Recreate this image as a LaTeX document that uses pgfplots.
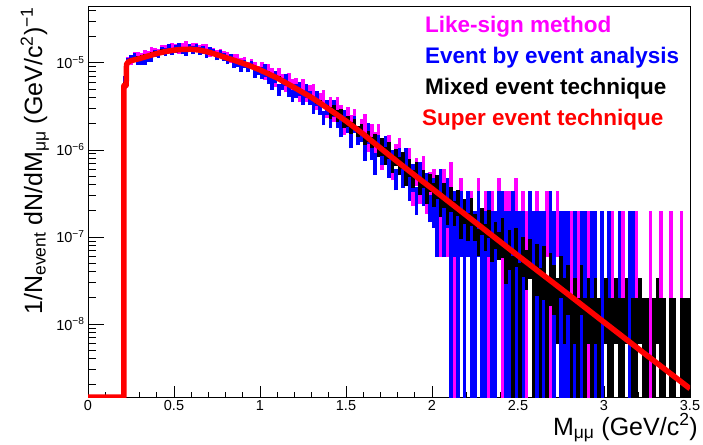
\documentclass[border=0pt]{standalone}
\usepackage{fontspec}
\setmainfont{Liberation Sans}
\usepackage{pgfplots}
\pgfplotsset{compat=1.18}
\definecolor{rmag}{rgb}{1,0,1}
\definecolor{rblue}{rgb}{0,0,1}
\definecolor{rred}{rgb}{1,0,0}
\begin{document}
\begin{tikzpicture}
\begin{axis}[
  scale only axis, width=602pt, height=391pt,
  xmin=0, xmax=3.5, ymode=log, ymin=1.45e-9, ymax=4.5e-5,
  axis line style={line width=0.8pt},
  tick align=inside, xtick pos=bottom, ytick pos=left,
  xtick={0,0.5,1,1.5,2,2.5,3,3.5},
  xticklabels={0,0.5,1,1.5,2,2.5,3,3.5},
  minor x tick num=4,
  ytick={1e-8,1e-7,1e-6,1e-5},
  yticklabels={10\textsuperscript{−8},10\textsuperscript{−7},10\textsuperscript{−6},10\textsuperscript{−5}},
  minor ytick={2e-9,3e-9,4e-9,5e-9,6e-9,7e-9,8e-9,9e-9,2e-8,3e-8,4e-8,5e-8,6e-8,7e-8,8e-8,9e-8,2e-7,3e-7,4e-7,5e-7,6e-7,7e-7,8e-7,9e-7,2e-6,3e-6,4e-6,5e-6,6e-6,7e-6,8e-6,9e-6,2e-5,3e-5,4e-5},
  xtick style={line width=0.8pt,black,/pgfplots/major tick length=11pt,/pgfplots/minor tick length=5.5pt},
  ytick style={line width=0.8pt,black,/pgfplots/major tick length=16pt,/pgfplots/minor tick length=8pt},
  ticklabel style={font=\fontsize{14.5}{17}\selectfont},
  unbounded coords=jump,
]
% Like-sign method (magenta)
\addplot[rmag, line width=3.6pt] coordinates {
(0.215,5.0e-6)(0.215,6.4e-6)(0.215,nan)
(0.23,9.6e-6)(0.23,11.8e-6)(0.23,nan)
(0.25,9.54e-6)(0.25,11.66e-6)(0.25,nan)
(0.27,10.93e-6)(0.27,13.37e-6)(0.27,nan)
(0.29,10.79e-6)(0.29,13.19e-6)(0.29,nan)
(0.31,10.72e-6)(0.31,13.11e-6)(0.31,nan)
(0.33,11.58e-6)(0.33,14.16e-6)(0.33,nan)
(0.35,11.23e-6)(0.35,13.73e-6)(0.35,nan)
(0.37,12.4e-6)(0.37,15.16e-6)(0.37,nan)
(0.39,12.06e-6)(0.39,14.76e-6)(0.39,nan)
(0.41,11.65e-6)(0.41,14.25e-6)(0.41,nan)
(0.43,13.06e-6)(0.43,15.98e-6)(0.43,nan)
(0.45,12.99e-6)(0.45,15.9e-6)(0.45,nan)
(0.47,12.7e-6)(0.47,15.53e-6)(0.47,nan)
(0.49,13.76e-6)(0.49,16.82e-6)(0.49,nan)
(0.51,13.45e-6)(0.51,16.44e-6)(0.51,nan)
(0.53,12.77e-6)(0.53,15.63e-6)(0.53,nan)
(0.55,13.89e-6)(0.55,17.0e-6)(0.55,nan)
(0.57,14.46e-6)(0.57,17.69e-6)(0.57,nan)
(0.59,13.16e-6)(0.59,16.11e-6)(0.59,nan)
(0.61,13.77e-6)(0.61,16.84e-6)(0.61,nan)
(0.63,14.01e-6)(0.63,17.12e-6)(0.63,nan)
(0.65,13.1e-6)(0.65,16.02e-6)(0.65,nan)
(0.67,13.49e-6)(0.67,16.5e-6)(0.67,nan)
(0.69,13.55e-6)(0.69,16.58e-6)(0.69,nan)
(0.71,11.83e-6)(0.71,14.47e-6)(0.71,nan)
(0.73,12.21e-6)(0.73,14.93e-6)(0.73,nan)
(0.75,11.38e-6)(0.75,13.92e-6)(0.75,nan)
(0.77,11.92e-6)(0.77,14.59e-6)(0.77,nan)
(0.79,11.05e-6)(0.79,13.52e-6)(0.79,nan)
(0.81,11.03e-6)(0.81,13.49e-6)(0.81,nan)
(0.83,9.9e-6)(0.83,12.1e-6)(0.83,nan)
(0.85,10.2e-6)(0.85,12.48e-6)(0.85,nan)
(0.87,10.29e-6)(0.87,12.59e-6)(0.87,nan)
(0.89,9.22e-6)(0.89,11.28e-6)(0.89,nan)
(0.91,9.47e-6)(0.91,11.59e-6)(0.91,nan)
(0.93,8.46e-6)(0.93,10.34e-6)(0.93,nan)
(0.95,9.17e-6)(0.95,11.21e-6)(0.95,nan)
(0.97,8.31e-6)(0.97,10.17e-6)(0.97,nan)
(0.99,7.6e-6)(0.99,9.3e-6)(0.99,nan)
(1.01,7.45e-6)(1.01,10.26e-6)(1.01,nan)
(1.03,6.31e-6)(1.03,8.7e-6)(1.03,nan)
(1.05,7.11e-6)(1.05,9.8e-6)(1.05,nan)
(1.07,6.4e-6)(1.07,8.81e-6)(1.07,nan)
(1.09,5.22e-6)(1.09,7.19e-6)(1.09,nan)
(1.11,6.38e-6)(1.11,8.78e-6)(1.11,nan)
(1.13,5.4e-6)(1.13,7.44e-6)(1.13,nan)
(1.15,4.59e-6)(1.15,6.33e-6)(1.15,nan)
(1.17,5.59e-6)(1.17,7.71e-6)(1.17,nan)
(1.19,4.76e-6)(1.19,6.56e-6)(1.19,nan)
(1.21,4.54e-6)(1.21,6.66e-6)(1.21,nan)
(1.23,3.53e-6)(1.23,5.18e-6)(1.23,nan)
(1.25,4.47e-6)(1.25,6.54e-6)(1.25,nan)
(1.27,3.56e-6)(1.27,5.22e-6)(1.27,nan)
(1.29,3.76e-6)(1.29,5.51e-6)(1.29,nan)
(1.31,3.9e-6)(1.31,5.7e-6)(1.31,nan)
(1.33,2.84e-6)(1.33,4.16e-6)(1.33,nan)
(1.35,3.11e-6)(1.35,4.55e-6)(1.35,nan)
(1.37,3.32e-6)(1.37,4.87e-6)(1.37,nan)
(1.39,2.3e-6)(1.39,3.37e-6)(1.39,nan)
(1.41,2.59e-6)(1.41,4.1e-6)(1.41,nan)
(1.43,2.12e-6)(1.43,3.36e-6)(1.43,nan)
(1.45,2.58e-6)(1.45,4.08e-6)(1.45,nan)
(1.47,2.04e-6)(1.47,3.24e-6)(1.47,nan)
(1.49,1.47e-6)(1.49,2.34e-6)(1.49,nan)
(1.51,1.95e-6)(1.51,3.1e-6)(1.51,nan)
(1.53,1.6e-6)(1.53,2.54e-6)(1.53,nan)
(1.55,1.85e-6)(1.55,2.94e-6)(1.55,nan)
(1.57,1.2e-6)(1.57,1.9e-6)(1.57,nan)
(1.59,1.42e-6)(1.59,2.26e-6)(1.59,nan)
(1.61,1.46e-6)(1.61,2.57e-6)(1.61,nan)
(1.63,0.957e-6)(1.63,1.68e-6)(1.63,nan)
(1.65,1.12e-6)(1.65,1.98e-6)(1.65,nan)
(1.67,0.911e-6)(1.67,1.61e-6)(1.67,nan)
(1.69,1.12e-6)(1.69,1.98e-6)(1.69,nan)
(1.71,0.594e-6)(1.71,1.05e-6)(1.71,nan)
(1.73,0.796e-6)(1.73,1.4e-6)(1.73,nan)
(1.75,0.833e-6)(1.75,1.47e-6)(1.75,nan)
(1.77,0.447e-6)(1.77,0.787e-6)(1.77,nan)
(1.79,0.662e-6)(1.79,1.17e-6)(1.79,nan)
(1.81,0.65e-6)(1.81,1.354e-6)(1.81,nan)
(1.83,0.387e-6)(1.83,0.809e-6)(1.83,nan)
(1.85,0.441e-6)(1.85,0.92e-6)(1.85,nan)
(1.87,0.5e-6)(1.87,1.045e-6)(1.87,nan)
(1.89,0.226e-6)(1.89,0.472e-6)(1.89,nan)
(1.91,0.389e-6)(1.91,0.813e-6)(1.91,nan)
(1.93,0.241e-6)(1.93,0.503e-6)(1.93,nan)
(1.95,0.408e-6)(1.95,0.852e-6)(1.95,nan)
(1.97,0.183e-6)(1.97,0.382e-6)(1.97,nan)
(1.99,0.27e-6)(1.99,0.563e-6)(1.99,nan)
(2.01,2.0e-7)(2.01,6.0e-7)(2.01,nan)
(2.03,1.27e-7)(2.03,4.73e-7)(2.03,nan)
(2.05,0.586e-7)(2.05,3.41e-7)(2.05,nan)
(2.07,2.0e-7)(2.07,6.0e-7)(2.07,nan)
(2.09,0.586e-7)(2.09,3.41e-7)(2.09,nan)
(2.11,2.76e-7)(2.11,7.24e-7)(2.11,nan)
(2.13,1e-9)(2.13,2.0e-7)(2.13,nan)
(2.15,0.586e-7)(2.15,3.41e-7)(2.15,nan)
(2.17,1.27e-7)(2.17,4.73e-7)(2.17,nan)
(2.19,1e-9)(2.19,2.0e-7)(2.19,nan)
(2.21,0.586e-7)(2.21,3.41e-7)(2.21,nan)
(2.23,0.586e-7)(2.23,3.41e-7)(2.23,nan)
(2.25,1e-9)(2.25,2.0e-7)(2.25,nan)
(2.27,1.27e-7)(2.27,4.73e-7)(2.27,nan)
(2.29,1e-9)(2.29,2.0e-7)(2.29,nan)
(2.31,0.586e-7)(2.31,3.41e-7)(2.31,nan)
(2.33,1e-9)(2.33,2.0e-7)(2.33,nan)
(2.35,0.586e-7)(2.35,3.41e-7)(2.35,nan)
(2.37,1e-9)(2.37,2.0e-7)(2.37,nan)
(2.39,1.27e-7)(2.39,4.73e-7)(2.39,nan)
(2.41,1e-9)(2.41,2.0e-7)(2.41,nan)
(2.43,0.586e-7)(2.43,3.41e-7)(2.43,nan)
(2.45,0.586e-7)(2.45,3.41e-7)(2.45,nan)
(2.47,1e-9)(2.47,2.0e-7)(2.47,nan)
(2.49,1.27e-7)(2.49,4.73e-7)(2.49,nan)
(2.51,1e-9)(2.51,2.0e-7)(2.51,nan)
(2.53,0.586e-7)(2.53,3.41e-7)(2.53,nan)
(2.55,1e-9)(2.55,2.0e-7)(2.55,nan)
(2.57,0.586e-7)(2.57,3.41e-7)(2.57,nan)
(2.59,1e-9)(2.59,2.0e-7)(2.59,nan)
(2.61,0.586e-7)(2.61,3.41e-7)(2.61,nan)
(2.63,1e-9)(2.63,2.0e-7)(2.63,nan)
(2.65,1e-9)(2.65,2.0e-7)(2.65,nan)
(2.67,0.586e-7)(2.67,3.41e-7)(2.67,nan)
(2.69,1e-9)(2.69,2.0e-7)(2.69,nan)
(2.71,1e-9)(2.71,2.0e-7)(2.71,nan)
(2.73,0.586e-7)(2.73,3.41e-7)(2.73,nan)
(2.75,1e-9)(2.75,2.0e-7)(2.75,nan)
(2.79,1e-9)(2.79,2.0e-7)(2.79,nan)
(2.81,1e-9)(2.81,2.0e-7)(2.81,nan)
(2.85,1e-9)(2.85,2.0e-7)(2.85,nan)
(2.87,1e-9)(2.87,2.0e-7)(2.87,nan)
(2.91,1e-9)(2.91,2.0e-7)(2.91,nan)
(2.95,1e-9)(2.95,2.0e-7)(2.95,nan)
(2.99,1e-9)(2.99,2.0e-7)(2.99,nan)
(3.05,1e-9)(3.05,2.0e-7)(3.05,nan)
(3.11,1e-9)(3.11,2.0e-7)(3.11,nan)
(3.19,1e-9)(3.19,2.0e-7)(3.19,nan)
(3.27,1e-9)(3.27,2.0e-7)(3.27,nan)
(3.33,1e-9)(3.33,2.0e-7)(3.33,nan)
(3.39,1e-9)(3.39,2.0e-7)(3.39,nan)
(3.45,1e-9)(3.45,2.0e-7)(3.45,nan)
};
% Event by event analysis (blue)
\addplot[rblue, line width=3.6pt] coordinates {
(0.215,5.6e-6)(0.215,7.0e-6)(0.215,nan)
(0.23,9.3e-6)(0.23,11.3e-6)(0.23,nan)
(0.25,10.04e-6)(0.25,12.26e-6)(0.25,nan)
(0.27,10.51e-6)(0.27,12.89e-6)(0.27,nan)
(0.29,9.47e-6)(0.29,11.63e-6)(0.29,nan)
(0.31,9.39e-6)(0.31,11.53e-6)(0.31,nan)
(0.33,9.47e-6)(0.33,11.58e-6)(0.33,nan)
(0.35,10.36e-6)(0.35,12.68e-6)(0.35,nan)
(0.37,10.18e-6)(0.37,12.47e-6)(0.37,nan)
(0.39,11.61e-6)(0.39,14.2e-6)(0.39,nan)
(0.41,11.3e-6)(0.41,13.82e-6)(0.41,nan)
(0.43,12.47e-6)(0.43,15.25e-6)(0.43,nan)
(0.45,12.15e-6)(0.45,14.86e-6)(0.45,nan)
(0.47,13.31e-6)(0.47,16.29e-6)(0.47,nan)
(0.49,12.25e-6)(0.49,14.99e-6)(0.49,nan)
(0.51,13.07e-6)(0.51,15.98e-6)(0.51,nan)
(0.53,13.92e-6)(0.53,17.03e-6)(0.53,nan)
(0.55,12.48e-6)(0.55,15.26e-6)(0.55,nan)
(0.57,12.01e-6)(0.57,14.68e-6)(0.57,nan)
(0.59,13.43e-6)(0.59,16.42e-6)(0.59,nan)
(0.61,12.6e-6)(0.61,15.42e-6)(0.61,nan)
(0.63,13.49e-6)(0.63,16.51e-6)(0.63,nan)
(0.65,12.47e-6)(0.65,15.25e-6)(0.65,nan)
(0.67,12.61e-6)(0.67,15.44e-6)(0.67,nan)
(0.69,11.5e-6)(0.69,14.06e-6)(0.69,nan)
(0.71,12.54e-6)(0.71,15.34e-6)(0.71,nan)
(0.73,11.86e-6)(0.73,14.5e-6)(0.73,nan)
(0.75,10.71e-6)(0.75,13.1e-6)(0.75,nan)
(0.77,11.38e-6)(0.77,13.92e-6)(0.77,nan)
(0.79,10.53e-6)(0.79,12.88e-6)(0.79,nan)
(0.81,9.6e-6)(0.81,11.74e-6)(0.81,nan)
(0.83,10.29e-6)(0.83,12.59e-6)(0.83,nan)
(0.85,8.67e-6)(0.85,10.6e-6)(0.85,nan)
(0.87,9.07e-6)(0.87,11.1e-6)(0.87,nan)
(0.89,7.95e-6)(0.89,9.73e-6)(0.89,nan)
(0.91,8.77e-6)(0.91,10.73e-6)(0.91,nan)
(0.93,7.78e-6)(0.93,9.52e-6)(0.93,nan)
(0.95,8.6e-6)(0.95,10.51e-6)(0.95,nan)
(0.97,6.73e-6)(0.97,8.23e-6)(0.97,nan)
(0.99,7.3e-6)(0.99,8.93e-6)(0.99,nan)
(1.01,6.55e-6)(1.01,9.03e-6)(1.01,nan)
(1.03,6.97e-6)(1.03,9.61e-6)(1.03,nan)
(1.05,5.71e-6)(1.05,7.87e-6)(1.05,nan)
(1.07,4.88e-6)(1.07,6.72e-6)(1.07,nan)
(1.09,5.8e-6)(1.09,7.99e-6)(1.09,nan)
(1.11,4.16e-6)(1.11,5.72e-6)(1.11,nan)
(1.13,4.87e-6)(1.13,6.71e-6)(1.13,nan)
(1.15,5.39e-6)(1.15,7.43e-6)(1.15,nan)
(1.17,4.03e-6)(1.17,5.55e-6)(1.17,nan)
(1.19,3.53e-6)(1.19,4.86e-6)(1.19,nan)
(1.21,3.93e-6)(1.21,5.76e-6)(1.21,nan)
(1.23,4.13e-6)(1.23,6.04e-6)(1.23,nan)
(1.25,3.28e-6)(1.25,4.8e-6)(1.25,nan)
(1.27,3.92e-6)(1.27,5.73e-6)(1.27,nan)
(1.29,3.26e-6)(1.29,4.77e-6)(1.29,nan)
(1.31,2.62e-6)(1.31,3.83e-6)(1.31,nan)
(1.33,3.23e-6)(1.33,4.72e-6)(1.33,nan)
(1.35,2.54e-6)(1.35,3.73e-6)(1.35,nan)
(1.37,1.91e-6)(1.37,2.81e-6)(1.37,nan)
(1.39,2.55e-6)(1.39,3.73e-6)(1.39,nan)
(1.41,1.79e-6)(1.41,2.85e-6)(1.41,nan)
(1.43,2.36e-6)(1.43,3.76e-6)(1.43,nan)
(1.45,1.78e-6)(1.45,2.83e-6)(1.45,nan)
(1.47,1.39e-6)(1.47,2.2e-6)(1.47,nan)
(1.49,1.82e-6)(1.49,2.89e-6)(1.49,nan)
(1.51,1.55e-6)(1.51,2.45e-6)(1.51,nan)
(1.53,1.04e-6)(1.53,1.64e-6)(1.53,nan)
(1.55,1.56e-6)(1.55,2.48e-6)(1.55,nan)
(1.57,1.13e-6)(1.57,1.79e-6)(1.57,nan)
(1.59,1.23e-6)(1.59,1.97e-6)(1.59,nan)
(1.61,0.754e-6)(1.61,1.33e-6)(1.61,nan)
(1.63,1.16e-6)(1.63,2.04e-6)(1.63,nan)
(1.65,0.764e-6)(1.65,1.35e-6)(1.65,nan)
(1.67,0.52e-6)(1.67,0.918e-6)(1.67,nan)
(1.69,0.843e-6)(1.69,1.48e-6)(1.69,nan)
(1.71,0.669e-6)(1.71,1.18e-6)(1.71,nan)
(1.73,0.828e-6)(1.73,1.46e-6)(1.73,nan)
(1.75,0.48e-6)(1.75,0.846e-6)(1.75,nan)
(1.77,0.567e-6)(1.77,0.997e-6)(1.77,nan)
(1.79,0.342e-6)(1.79,0.603e-6)(1.79,nan)
(1.81,0.51e-6)(1.81,1.065e-6)(1.81,nan)
(1.83,0.366e-6)(1.83,0.764e-6)(1.83,nan)
(1.85,0.5e-6)(1.85,1.045e-6)(1.85,nan)
(1.87,0.259e-6)(1.87,0.542e-6)(1.87,nan)
(1.89,0.33e-6)(1.89,0.69e-6)(1.89,nan)
(1.91,0.178e-6)(1.91,0.373e-6)(1.91,nan)
(1.93,0.347e-6)(1.93,0.724e-6)(1.93,nan)
(1.95,0.225e-6)(1.95,0.47e-6)(1.95,nan)
(1.97,0.261e-6)(1.97,0.546e-6)(1.97,nan)
(1.99,0.147e-6)(1.99,0.307e-6)(1.99,nan)
(2.01,1.27e-7)(2.01,4.73e-7)(2.01,nan)
(2.03,0.586e-7)(2.03,3.41e-7)(2.03,nan)
(2.05,2.0e-7)(2.05,6.0e-7)(2.05,nan)
(2.07,0.586e-7)(2.07,3.41e-7)(2.07,nan)
(2.09,1.27e-7)(2.09,4.73e-7)(2.09,nan)
(2.11,1e-9)(2.11,2.0e-7)(2.11,nan)
(2.13,0.586e-7)(2.13,3.41e-7)(2.13,nan)
(2.15,1e-9)(2.15,2.0e-7)(2.15,nan)
(2.17,0.586e-7)(2.17,3.41e-7)(2.17,nan)
(2.19,1e-9)(2.19,2.0e-7)(2.19,nan)
(2.21,0.586e-7)(2.21,3.41e-7)(2.21,nan)
(2.23,1e-9)(2.23,2.0e-7)(2.23,nan)
(2.25,1e-9)(2.25,2.0e-7)(2.25,nan)
(2.27,0.586e-7)(2.27,3.41e-7)(2.27,nan)
(2.29,1e-9)(2.29,2.0e-7)(2.29,nan)
(2.31,1e-9)(2.31,2.0e-7)(2.31,nan)
(2.33,0.586e-7)(2.33,3.41e-7)(2.33,nan)
(2.35,1e-9)(2.35,2.0e-7)(2.35,nan)
(2.37,1e-9)(2.37,2.0e-7)(2.37,nan)
(2.39,0.586e-7)(2.39,3.41e-7)(2.39,nan)
(2.41,0.586e-7)(2.41,3.41e-7)(2.41,nan)
(2.43,1e-9)(2.43,2.0e-7)(2.43,nan)
(2.45,1e-9)(2.45,2.0e-7)(2.45,nan)
(2.47,0.586e-7)(2.47,3.41e-7)(2.47,nan)
(2.49,1e-9)(2.49,2.0e-7)(2.49,nan)
(2.51,1e-9)(2.51,2.0e-7)(2.51,nan)
(2.53,1e-9)(2.53,2.0e-7)(2.53,nan)
(2.57,0.586e-7)(2.57,3.41e-7)(2.57,nan)
(2.59,1e-9)(2.59,2.0e-7)(2.59,nan)
(2.61,1e-9)(2.61,2.0e-7)(2.61,nan)
(2.63,1e-9)(2.63,2.0e-7)(2.63,nan)
(2.65,1e-9)(2.65,2.0e-7)(2.65,nan)
(2.69,0.586e-7)(2.69,3.41e-7)(2.69,nan)
(2.71,1e-9)(2.71,2.0e-7)(2.71,nan)
(2.75,1e-9)(2.75,2.0e-7)(2.75,nan)
(2.77,1e-9)(2.77,2.0e-7)(2.77,nan)
(2.79,1e-9)(2.79,2.0e-7)(2.79,nan)
(2.83,1e-9)(2.83,2.0e-7)(2.83,nan)
(2.87,1e-9)(2.87,2.0e-7)(2.87,nan)
(2.89,1e-9)(2.89,2.0e-7)(2.89,nan)
(2.93,1e-9)(2.93,2.0e-7)(2.93,nan)
(2.95,1e-9)(2.95,2.0e-7)(2.95,nan)
(2.99,1e-9)(2.99,2.0e-7)(2.99,nan)
(3.03,1e-9)(3.03,2.0e-7)(3.03,nan)
(3.09,1e-9)(3.09,2.0e-7)(3.09,nan)
(3.15,1e-9)(3.15,2.0e-7)(3.15,nan)
(3.17,1e-9)(3.17,2.0e-7)(3.17,nan)
};
% Mixed event technique (black)
\addplot[black, line width=3.6pt] coordinates {
(0.215,5.5e-6)(0.215,6.0e-6)(0.215,nan)
(0.23,10.0e-6)(0.23,10.5e-6)(0.23,nan)
(0.25,11.01e-6)(0.25,11.46e-6)(0.25,nan)
(0.27,11.16e-6)(0.27,11.62e-6)(0.27,nan)
(0.29,11.64e-6)(0.29,12.12e-6)(0.29,nan)
(0.31,11.68e-6)(0.31,12.16e-6)(0.31,nan)
(0.33,12.15e-6)(0.33,12.65e-6)(0.33,nan)
(0.35,12.23e-6)(0.35,12.73e-6)(0.35,nan)
(0.37,12.78e-6)(0.37,13.30e-6)(0.37,nan)
(0.39,13.01e-6)(0.39,13.55e-6)(0.39,nan)
(0.41,13.20e-6)(0.41,13.74e-6)(0.41,nan)
(0.43,13.71e-6)(0.43,14.27e-6)(0.43,nan)
(0.45,13.89e-6)(0.45,14.46e-6)(0.45,nan)
(0.47,13.96e-6)(0.47,14.53e-6)(0.47,nan)
(0.49,14.30e-6)(0.49,14.89e-6)(0.49,nan)
(0.51,14.23e-6)(0.51,14.81e-6)(0.51,nan)
(0.53,14.47e-6)(0.53,15.06e-6)(0.53,nan)
(0.55,14.43e-6)(0.55,15.02e-6)(0.55,nan)
(0.57,14.35e-6)(0.57,14.93e-6)(0.57,nan)
(0.59,14.48e-6)(0.59,15.08e-6)(0.59,nan)
(0.61,14.29e-6)(0.61,14.88e-6)(0.61,nan)
(0.63,13.87e-6)(0.63,14.43e-6)(0.63,nan)
(0.65,14.13e-6)(0.65,14.71e-6)(0.65,nan)
(0.67,13.61e-6)(0.67,14.17e-6)(0.67,nan)
(0.69,13.45e-6)(0.69,13.99e-6)(0.69,nan)
(0.71,12.89e-6)(0.71,13.41e-6)(0.71,nan)
(0.73,12.92e-6)(0.73,13.45e-6)(0.73,nan)
(0.75,12.27e-6)(0.75,12.77e-6)(0.75,nan)
(0.77,11.69e-6)(0.77,12.17e-6)(0.77,nan)
(0.79,11.69e-6)(0.79,12.17e-6)(0.79,nan)
(0.81,11.12e-6)(0.81,11.58e-6)(0.81,nan)
(0.83,11.10e-6)(0.83,11.56e-6)(0.83,nan)
(0.85,10.38e-6)(0.85,10.80e-6)(0.85,nan)
(0.87,10.29e-6)(0.87,10.71e-6)(0.87,nan)
(0.89,10.05e-6)(0.89,10.46e-6)(0.89,nan)
(0.91,9.36e-6)(0.91,9.75e-6)(0.91,nan)
(0.93,9.30e-6)(0.93,9.68e-6)(0.93,nan)
(0.95,8.92e-6)(0.95,9.28e-6)(0.95,nan)
(0.97,8.88e-6)(0.97,9.24e-6)(0.97,nan)
(0.99,8.20e-6)(0.99,8.53e-6)(0.99,nan)
(1.01,8.06e-6)(1.01,8.56e-6)(1.01,nan)
(1.03,7.46e-6)(1.03,7.92e-6)(1.03,nan)
(1.05,7.49e-6)(1.05,7.96e-6)(1.05,nan)
(1.07,6.98e-6)(1.07,7.42e-6)(1.07,nan)
(1.09,6.44e-6)(1.09,6.84e-6)(1.09,nan)
(1.11,6.61e-6)(1.11,7.01e-6)(1.11,nan)
(1.13,6.06e-6)(1.13,6.44e-6)(1.13,nan)
(1.15,5.61e-6)(1.15,5.95e-6)(1.15,nan)
(1.17,5.60e-6)(1.17,5.94e-6)(1.17,nan)
(1.19,5.14e-6)(1.19,5.46e-6)(1.19,nan)
(1.21,5.14e-6)(1.21,5.46e-6)(1.21,nan)
(1.23,4.52e-6)(1.23,4.80e-6)(1.23,nan)
(1.25,4.50e-6)(1.25,4.78e-6)(1.25,nan)
(1.27,4.05e-6)(1.27,4.30e-6)(1.27,nan)
(1.29,4.14e-6)(1.29,4.39e-6)(1.29,nan)
(1.31,3.78e-6)(1.31,4.02e-6)(1.31,nan)
(1.33,3.36e-6)(1.33,3.57e-6)(1.33,nan)
(1.35,3.55e-6)(1.35,3.77e-6)(1.35,nan)
(1.37,3.09e-6)(1.37,3.28e-6)(1.37,nan)
(1.39,3.05e-6)(1.39,3.24e-6)(1.39,nan)
(1.41,2.29e-6)(1.41,3.08e-6)(1.41,nan)
(1.43,2.45e-6)(1.43,3.31e-6)(1.43,nan)
(1.45,2.12e-6)(1.45,2.86e-6)(1.45,nan)
(1.47,2.19e-6)(1.47,2.96e-6)(1.47,nan)
(1.49,1.78e-6)(1.49,2.41e-6)(1.49,nan)
(1.51,1.82e-6)(1.51,2.45e-6)(1.51,nan)
(1.53,1.53e-6)(1.53,2.07e-6)(1.53,nan)
(1.55,1.68e-6)(1.55,2.27e-6)(1.55,nan)
(1.57,1.41e-6)(1.57,1.9e-6)(1.57,nan)
(1.59,1.49e-6)(1.59,2.0e-6)(1.59,nan)
(1.61,1.13e-6)(1.61,1.53e-6)(1.61,nan)
(1.63,1.23e-6)(1.63,1.66e-6)(1.63,nan)
(1.65,1.04e-6)(1.65,1.4e-6)(1.65,nan)
(1.67,1.13e-6)(1.67,1.53e-6)(1.67,nan)
(1.69,0.821e-6)(1.69,1.109e-6)(1.69,nan)
(1.71,0.853e-6)(1.71,1.357e-6)(1.71,nan)
(1.73,0.677e-6)(1.73,1.074e-6)(1.73,nan)
(1.75,0.782e-6)(1.75,1.242e-6)(1.75,nan)
(1.77,0.539e-6)(1.77,0.856e-6)(1.77,nan)
(1.79,0.645e-6)(1.79,1.025e-6)(1.79,nan)
(1.81,0.52e-6)(1.81,0.826e-6)(1.81,nan)
(1.83,0.6e-6)(1.83,0.952e-6)(1.83,nan)
(1.85,0.388e-6)(1.85,0.616e-6)(1.85,nan)
(1.87,0.49e-6)(1.87,0.779e-6)(1.87,nan)
(1.89,0.37e-6)(1.89,0.587e-6)(1.89,nan)
(1.91,0.46e-6)(1.91,0.73e-6)(1.91,nan)
(1.93,0.303e-6)(1.93,0.481e-6)(1.93,nan)
(1.95,0.366e-6)(1.95,0.581e-6)(1.95,nan)
(1.97,0.241e-6)(1.97,0.383e-6)(1.97,nan)
(1.99,0.332e-6)(1.99,0.529e-6)(1.99,nan)
(2.01,21.8e-8)(2.01,41.6e-8)(2.01,nan)
(2.03,27.0e-8)(2.03,51.6e-8)(2.03,nan)
(2.05,16.9e-8)(2.05,32.3e-8)(2.05,nan)
(2.07,21.7e-8)(2.07,41.4e-8)(2.07,nan)
(2.09,13.8e-8)(2.09,26.2e-8)(2.09,nan)
(2.11,19.4e-8)(2.11,37.8e-8)(2.11,nan)
(2.13,13.4e-8)(2.13,26.0e-8)(2.13,nan)
(2.15,17.5e-8)(2.15,34.2e-8)(2.15,nan)
(2.17,9.5e-8)(2.17,18.6e-8)(2.17,nan)
(2.19,14.0e-8)(2.19,27.2e-8)(2.19,nan)
(2.21,9.1e-8)(2.21,19.0e-8)(2.21,nan)
(2.23,13.4e-8)(2.23,27.7e-8)(2.23,nan)
(2.25,9.0e-8)(2.25,18.5e-8)(2.25,nan)
(2.27,6.0e-8)(2.27,12.5e-8)(2.27,nan)
(2.29,10.4e-8)(2.29,21.6e-8)(2.29,nan)
(2.31,6.9e-8)(2.31,14.2e-8)(2.31,nan)
(2.33,9.8e-8)(2.33,20.3e-8)(2.33,nan)
(2.35,5.2e-8)(2.35,10.9e-8)(2.35,nan)
(2.37,7.2e-8)(2.37,14.9e-8)(2.37,nan)
(2.39,5.5e-8)(2.39,11.3e-8)(2.39,nan)
(2.41,5.7e-8)(2.41,16.3e-8)(2.41,nan)
(2.43,2.9e-8)(2.43,8.3e-8)(2.43,nan)
(2.45,4.2e-8)(2.45,12.0e-8)(2.45,nan)
(2.47,1e-9)(2.47,6.0e-8)(2.47,nan)
(2.49,4.5e-8)(2.49,12.8e-8)(2.49,nan)
(2.51,1e-9)(2.51,5.0e-8)(2.51,nan)
(2.53,3.5e-8)(2.53,9.9e-8)(2.53,nan)
(2.55,2.45e-8)(2.55,7.0e-8)(2.55,nan)
(2.57,3.3e-8)(2.57,9.4e-8)(2.57,nan)
(2.59,1e-9)(2.59,4.5e-8)(2.59,nan)
(2.61,2.1e-8)(2.61,8.4e-8)(2.61,nan)
(2.63,1e-9)(2.63,4.4e-8)(2.63,nan)
(2.65,1.9e-8)(2.65,7.9e-8)(2.65,nan)
(2.67,1e-9)(2.67,3.4e-8)(2.67,nan)
(2.69,1.6e-8)(2.69,6.6e-8)(2.69,nan)
(2.71,1.27e-8)(2.71,4.73e-8)(2.71,nan)
(2.73,0.59e-8)(2.73,3.41e-8)(2.73,nan)
(2.75,2.0e-8)(2.75,6.0e-8)(2.75,nan)
(2.77,0.59e-8)(2.77,3.41e-8)(2.77,nan)
(2.79,1.27e-8)(2.79,4.73e-8)(2.79,nan)
(2.81,1e-9)(2.81,2.0e-8)(2.81,nan)
(2.83,0.59e-8)(2.83,3.41e-8)(2.83,nan)
(2.85,1e-9)(2.85,2.0e-8)(2.85,nan)
(2.87,1.27e-8)(2.87,4.73e-8)(2.87,nan)
(2.89,1e-9)(2.89,2.0e-8)(2.89,nan)
(2.91,0.59e-8)(2.91,3.41e-8)(2.91,nan)
(2.93,1e-9)(2.93,2.0e-8)(2.93,nan)
(2.95,0.59e-8)(2.95,3.41e-8)(2.95,nan)
(2.97,1e-9)(2.97,2.0e-8)(2.97,nan)
(3.01,0.59e-8)(3.01,3.41e-8)(3.01,nan)
(3.03,1e-9)(3.03,2.0e-8)(3.03,nan)
(3.05,1e-9)(3.05,2.0e-8)(3.05,nan)
(3.07,0.59e-8)(3.07,3.41e-8)(3.07,nan)
(3.09,1e-9)(3.09,2.0e-8)(3.09,nan)
(3.11,1e-9)(3.11,2.0e-8)(3.11,nan)
(3.13,0.59e-8)(3.13,3.41e-8)(3.13,nan)
(3.17,1e-9)(3.17,2.0e-8)(3.17,nan)
(3.19,1e-9)(3.19,2.0e-8)(3.19,nan)
(3.21,0.59e-8)(3.21,3.41e-8)(3.21,nan)
(3.23,1e-9)(3.23,2.0e-8)(3.23,nan)
(3.25,1e-9)(3.25,2.0e-8)(3.25,nan)
(3.29,1e-9)(3.29,2.0e-8)(3.29,nan)
(3.31,0.59e-8)(3.31,3.41e-8)(3.31,nan)
(3.33,1e-9)(3.33,2.0e-8)(3.33,nan)
(3.35,1e-9)(3.35,2.0e-8)(3.35,nan)
(3.39,1e-9)(3.39,2.0e-8)(3.39,nan)
(3.41,1e-9)(3.41,2.0e-8)(3.41,nan)
(3.45,1e-9)(3.45,2.0e-8)(3.45,nan)
(3.47,1e-9)(3.47,2.0e-8)(3.47,nan)
(3.49,1e-9)(3.49,2.0e-8)(3.49,nan)
};
% Super event technique (red)
\addplot[rred, line width=5.5pt, line join=round] coordinates {
(0,1.45e-9)(0.209,1.45e-9)(0.209,5.5e-6)(0.222,5.5e-6)(0.224,9.6e-6)
(0.235,1.03e-5)(0.25,1.06e-5)(0.3,1.12e-5)(0.35,1.2e-5)(0.4,1.28e-5)
(0.45,1.35e-5)(0.5,1.4e-5)(0.55,1.43e-5)(0.6,1.435e-5)(0.65,1.4e-5)
(0.7,1.33e-5)(0.75,1.24e-5)(0.8,1.15e-5)(0.85,1.07e-5)(0.9,9.9e-6)
(0.95,9.1e-6)(1.0,8.3e-6)(1.1,6.7e-6)(1.2,5.2e-6)(1.3,4.0e-6)
(1.4,2.95e-6)(1.5,2.15e-6)(1.6,1.52e-6)(1.7,1.05e-6)(1.8,7.3e-7)
(1.9,5.1e-7)(2.0,3.6e-7)(2.25,1.48e-7)(2.5,6.1e-8)(2.75,2.54e-8)
(3.0,1.05e-8)(3.25,4.35e-9)(3.5,1.81e-9)
};
\end{axis}
\begin{scope}[font=\fontsize{22.5}{27}\selectfont\bfseries]
\node[anchor=base west, text=rmag, inner sep=0pt] at (337pt,364pt) {Like-sign method};
\node[anchor=base west, text=rblue, inner sep=0pt] at (337pt,333pt) {Event by event analysis};
\node[anchor=base west, text=black, inner sep=0pt] at (337pt,302pt) {Mixed event technique};
\node[anchor=base west, text=rred, inner sep=0pt] at (334pt,271pt) {Super event technique};
\end{scope}
\node[anchor=base east, inner sep=0pt, font=\fontsize{25}{30}\selectfont] at (610pt,-38pt) {M\textsubscript{μμ} (GeV/c\textsuperscript{2})};
\node[anchor=base east, rotate=90, inner sep=0pt, font=\fontsize{25}{30}\selectfont] at (-46pt,390pt) {1/N\textsubscript{event} dN/dM\textsubscript{μμ} (GeV/c\textsuperscript{2})\textsuperscript{−1}};
\pgfresetboundingbox
\path[use as bounding box] (-88pt,-47pt) rectangle (615pt,397pt);
\end{tikzpicture}
\end{document}
